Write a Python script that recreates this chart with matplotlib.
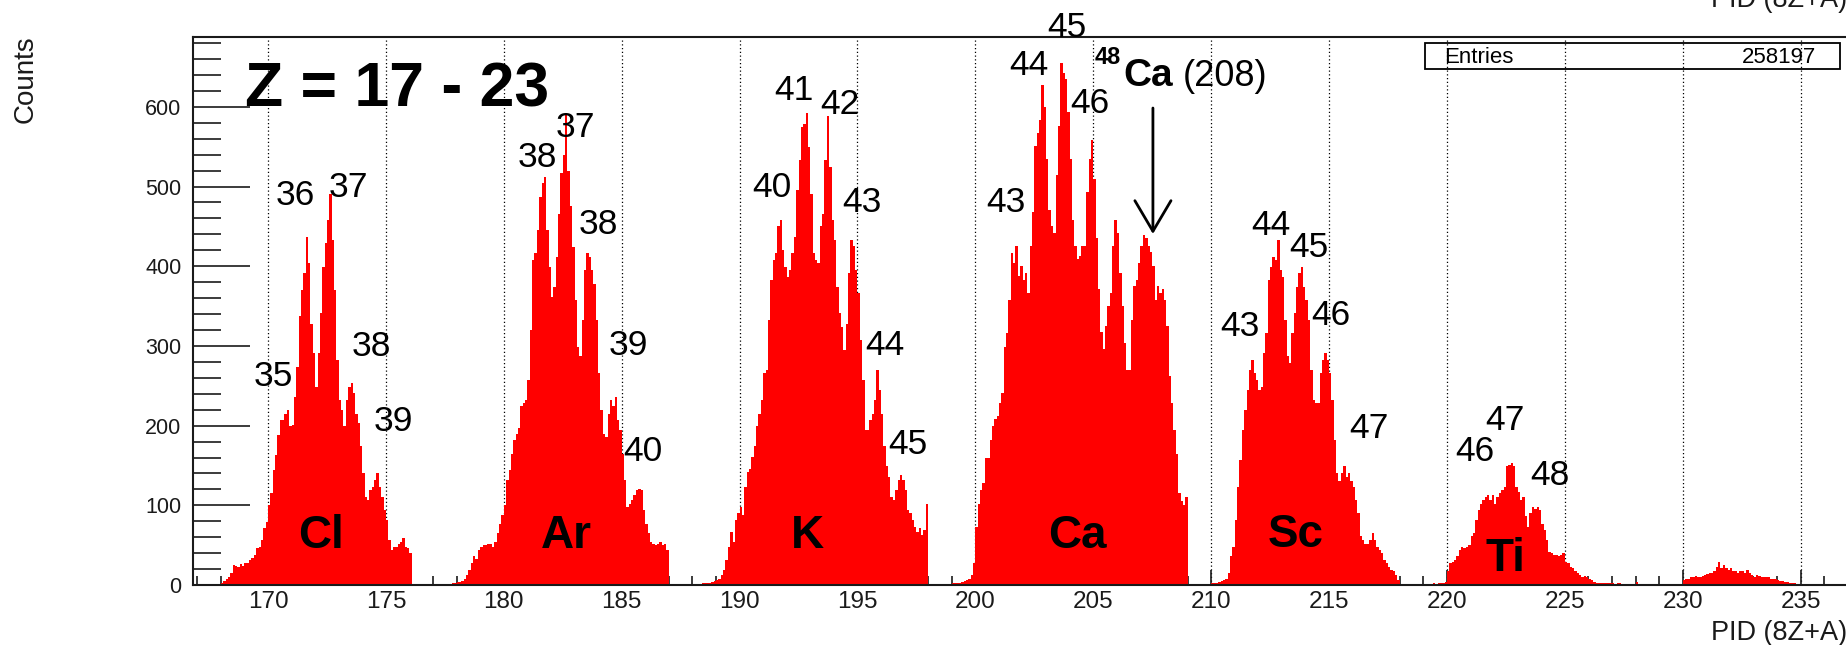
import numpy as np
import matplotlib
matplotlib.use('Agg')
from matplotlib import pyplot as plt
from matplotlib.ticker import MultipleLocator

plt.rcParams['font.family'] = ['Liberation Sans', 'DejaVu Sans']

# histogram contents, 0.1 wide bins
bin_width = 0.1

cl_start = 168.0
cl_counts = [3, 5, 7, 10, 15, 25, 24, 22, 26, 24,
             27, 28, 31, 34, 38, 46, 48, 56, 71, 79,
             100, 115, 144, 163, 188, 207, 207, 215, 220, 199,
             201, 236, 274, 337, 370, 391, 437, 404, 328, 291,
             249, 291, 341, 399, 429, 458, 491, 433, 370, 282,
             232, 220, 199, 232, 249, 253, 241, 215, 203, 174,
             140, 111, 107, 119, 123, 132, 140, 123, 111, 94,
             82, 56, 44, 48, 48, 52, 54, 59, 48, 46, 40]

ar_start = 177.8
ar_counts = [2, 3, 4, 4, 5, 8, 13, 19, 27, 36, 33, 44,
             48, 50, 50, 52, 51, 48, 54, 65, 77, 88,
             100, 132, 144, 165, 182, 190, 197, 224, 228, 232,
             257, 320, 408, 416, 445, 487, 504, 512, 445, 399,
             362, 374, 412, 466, 517, 540, 592, 520, 475, 424,
             358, 299, 287, 333, 395, 416, 412, 395, 378, 333,
             266, 220, 190, 186, 215, 232, 224, 236, 207, 194,
             165, 132, 98, 102, 107, 113, 119, 120, 119, 94,
             77, 65, 54, 52, 50, 52, 54, 50, 52, 44]

k_start = 188.4
k_counts = [2, 2, 3, 3, 4, 5,
            6, 8, 13, 19, 31, 48, 67, 54, 82, 90,
            98, 88, 123, 142, 146, 161, 174, 199, 215, 232,
            266, 270, 332, 383, 408, 416, 450, 458, 420, 399,
            387, 395, 416, 437, 496, 533, 575, 579, 592, 550,
            491, 416, 408, 404, 450, 466, 533, 588, 525, 458,
            433, 374, 341, 324, 295, 328, 391, 433, 425, 395,
            366, 308, 257, 194, 194, 207, 215, 232, 270, 245,
            215, 174, 149, 136, 111, 107, 119, 132, 138, 132,
            119, 94, 90, 82, 73, 67, 71, 63, 69, 102]

ca_start = 199.0
ca_counts = [2, 2, 3, 3, 4, 5, 6, 8, 13, 27,
             73, 102, 119, 128, 159, 159, 182, 199, 208, 212,
             229, 241, 299, 316, 358, 416, 404, 426, 388, 400,
             383, 392, 367, 426, 468, 551, 567, 584, 628, 600,
             534, 471, 450, 442, 514, 576, 655, 643, 635, 593,
             534, 458, 426, 409, 413, 426, 426, 493, 534, 559,
             509, 435, 372, 317, 296, 325, 350, 367, 426, 458,
             442, 392, 350, 304, 270, 270, 333, 375, 383, 404,
             426, 439, 435, 426, 418, 400, 358, 375, 367, 371,
             358, 325, 262, 229, 195, 165, 115, 105, 100, 110]

sc_start = 210.0
sc_counts = [2, 3, 3, 4, 5, 6, 7, 15, 36, 48,
             82, 123, 157, 194, 220, 245, 270, 282, 266, 257,
             245, 249, 291, 316, 383, 399, 412, 408, 433, 395,
             387, 332, 287, 278, 316, 341, 374, 391, 399, 374,
             358, 332, 270, 232, 228, 228, 266, 282, 291, 282,
             266, 232, 182, 140, 131, 140, 149, 136, 140, 131,
             123, 107, 90, 61, 56, 52, 52, 56, 65, 56,
             48, 44, 40, 31, 27, 23, 19, 17, 13, 6]

ti_start = 219.3
ti_counts = [1, 2, 1, 2, 2, 3, 4,
             17, 27, 29, 31, 36, 44, 48, 46, 48, 50,
             61, 65, 82, 94, 102, 107, 111, 113, 107, 113,
             102, 111, 115, 119, 123, 149, 151, 153, 149, 123,
             117, 107, 111, 86, 73, 90, 98, 96, 98, 94,
             77, 69, 56, 42, 40, 38, 38, 36, 38, 40,
             29, 27, 23, 21, 17, 15, 13, 10, 11, 10,
             8, 6, 4, 3, 3, 3, 3, 2, 3, 2,
             2, 1, 2, 2, 1, 0, 1, 0, 0, 0, 4]

tail_start = 230.0
tail_counts = [6, 7, 8, 10, 10, 11, 10, 10, 11, 13,
               14, 15, 15, 17, 23, 29, 21, 25, 21, 19,
               21, 17, 17, 15, 18, 17, 15, 19, 15, 13,
               10, 13, 11, 10, 10, 10, 10, 8, 8, 7,
               6, 5, 5, 4, 4, 3, 3, 2]

segments = [(cl_start, cl_counts), (ar_start, ar_counts), (k_start, k_counts),
            (ca_start, ca_counts), (sc_start, sc_counts), (ti_start, ti_counts),
            (tail_start, tail_counts)]

elements = ['Cl', 'Ar', 'K', 'Ca', 'Sc', 'Ti']
element_x = [172.26, 182.67, 192.86, 204.32, 213.57, 222.47]
element_y = [46, 46, 46, 46, 48, 17]

# mass number labels: (text, x, baseline y)
mass_labels = [
    ('35', 170.22, 250), ('36', 171.17, 477), ('37', 173.42, 487), ('38', 174.38, 287), ('39', 175.33, 193),
    ('38', 181.42, 525), ('37', 183.02, 562), ('38', 183.99, 440), ('39', 185.28, 289), ('40', 185.91, 155),
    ('40', 191.36, 487), ('41', 192.31, 609), ('42', 194.25, 591), ('43', 195.20, 468), ('44', 196.18, 289),
    ('45', 197.13, 165),
    ('43', 201.31, 468), ('44', 202.26, 640), ('45', 203.86, 688), ('46', 204.84, 592),
    ('43', 211.23, 313), ('44', 212.54, 439), ('45', 214.13, 412), ('46', 215.09, 326), ('47', 216.70, 184),
    ('46', 221.17, 155), ('47', 222.47, 194), ('48', 224.38, 126),
]

entries = 258197

fig = plt.figure(figsize=(18.46, 6.45), dpi=100)
ax = fig.add_axes([0.1043, 0.093, 0.935, 0.8501])
ax.set_xlim(166.8, 240)
ax.set_ylim(0, 688)

for start, counts in segments:
    edges = start + bin_width * np.arange(len(counts) + 1)
    ax.stairs(counts, edges, fill=True, color='#ff0000', lw=0, zorder=2)

# dotted grid at the major x ticks, under the histogram
major_x = np.arange(170, 240, 5)
ax.vlines(major_x, 0, 688, colors='black', linestyles=(0, (1, 2)), lw=0.9, zorder=0.5)

ax.xaxis.set_major_locator(MultipleLocator(5))
ax.xaxis.set_minor_locator(MultipleLocator(1))
ax.yaxis.set_major_locator(MultipleLocator(100))
ax.yaxis.set_minor_locator(MultipleLocator(20))
ax.set_yticks(np.arange(0, 700, 100))
ax.tick_params(axis='x', which='major', direction='in', length=11, width=1.2,
               labelsize=17.5, pad=4, colors='#1a1a1a')
ax.tick_params(axis='x', which='minor', direction='in', length=6.5, width=1.2, colors='#1a1a1a')
ax.tick_params(axis='y', which='major', direction='in', length=41, width=1.2,
               labelsize=15.5, pad=8, colors='#1a1a1a')
ax.tick_params(axis='y', which='minor', direction='in', length=20, width=1.2, colors='#1a1a1a')
for lbl in ax.get_xticklabels() + ax.get_yticklabels():
    lbl.set_zorder(5)
for s in ['left', 'bottom', 'top']:
    ax.spines[s].set_linewidth(1.5)
    ax.spines[s].set_color('#1a1a1a')
    ax.spines[s].set_zorder(5)
ax.spines['right'].set_visible(False)

for name, x, y in zip(elements, element_x, element_y):
    ax.text(x, y, name, fontsize=33, fontweight='bold', ha='center', va='baseline', zorder=6)

for txt, x, y in mass_labels:
    ax.text(x, y, txt, fontsize=25.5, ha='center', va='baseline', zorder=6, clip_on=False)

ax.text(169.04, 600, 'Z = 17 - 23', fontsize=45, fontweight='bold', ha='left', va='baseline', zorder=6)

# 48Ca (208) marker
ax.text(205.06, 654, '48', fontsize=17, fontweight='bold', ha='left', va='baseline', zorder=6)
ax.text(206.28, 626, 'Ca', fontsize=28, fontweight='bold', ha='left', va='baseline', zorder=6)
ax.text(208.80, 626, '(208)', fontsize=26, ha='left', va='baseline', zorder=6)
ax.annotate('', xy=(207.53, 437), xytext=(207.53, 602),
            arrowprops=dict(arrowstyle='->,head_length=1.1,head_width=0.65',
                            lw=2, color='black', mutation_scale=20), zorder=6)

# stats box
fig.patches.append(plt.Rectangle((1424.5 / 1846, 1 - 69 / 645), (1840 - 1424.5) / 1846, 26.3 / 645,
                                 transform=fig.transFigure, fill=False, ec='black', lw=1.3))
fig.text(1444 / 1846, 1 - 63 / 645, 'Entries', fontsize=16, ha='left', va='baseline')
fig.text(1816.6 / 1846, 1 - 63 / 645, str(entries), fontsize=16, ha='right', va='baseline')

fig.text(26 / 1846, 1 - 79 / 645, 'Counts', fontsize=20, rotation=90, ha='center', va='center', color='#1a1a1a')
fig.text(1711 / 1846, 5 / 645, 'PID (8Z+A)', fontsize=19.5, ha='left', va='baseline', color='#1a1a1a')
fig.text(1711 / 1846, 1 - 6.7 / 645, 'PID (8Z+A)', fontsize=19.5, ha='left', va='baseline', color='#1a1a1a')

fig.savefig('out.png', dpi=100)
